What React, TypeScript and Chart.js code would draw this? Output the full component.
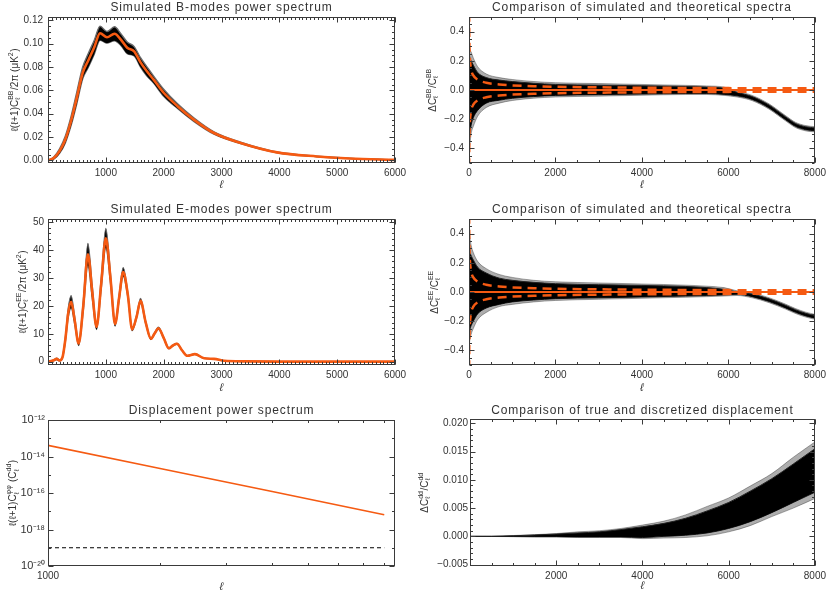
import React, { useEffect, useRef } from "react";
import { Chart, registerables } from "chart.js";
Chart.register(...registerables);

const FONT = "'Liberation Sans', Arial, sans-serif";
const TXT = "#333333";
const ORANGE = "#f55a12";
const SPIKE = "rgba(0,0,0,0.32)";

// ---------- Panel 1: B-modes power spectrum ----------
const bbEll = [2, 100, 200, 300, 400, 500, 600, 700, 800, 900, 1020, 1150, 1260, 1370, 1490, 1600, 1700, 1830, 2000, 2240, 2520, 2870, 3330, 3960, 4650, 5220, 6000];
const bbTheory = [0, 0.002, 0.008, 0.018, 0.034, 0.054, 0.075, 0.086, 0.097, 0.109, 0.1055, 0.1085, 0.1035, 0.0965, 0.0935, 0.084, 0.077, 0.069, 0.058, 0.0465, 0.035, 0.0235, 0.015, 0.0069, 0.0034, 0.0017, 0.0005];
const bbSimHigh = [0, 0.003, 0.010, 0.021, 0.038, 0.059, 0.080, 0.092, 0.103, 0.115, 0.1105, 0.1145, 0.1085, 0.1015, 0.0975, 0.088, 0.081, 0.072, 0.061, 0.0485, 0.0365, 0.0245, 0.0156, 0.0072, 0.0036, 0.0018, 0.0005];
const bbSimLow = [0, 0.001, 0.006, 0.015, 0.030, 0.049, 0.070, 0.080, 0.091, 0.103, 0.1005, 0.1025, 0.0985, 0.0915, 0.0895, 0.080, 0.073, 0.066, 0.055, 0.0445, 0.0335, 0.0225, 0.0144, 0.0066, 0.0032, 0.0016, 0.0005];
const specXTicks = [0, 1000, 2000, 3000, 4000, 5000, 6000];
const specXLabels = ["", "1000", "2000", "3000", "4000", "5000", "6000"];
const bbYTicks = [0, 0.02, 0.04, 0.06, 0.08, 0.1, 0.12];
const bbYLabels = ["0.00", "0.02", "0.04", "0.06", "0.08", "0.10", "0.12"];

// ---------- Panel 3: E-modes power spectrum ----------
const eeEll = [0, 100, 150, 200, 250, 300, 350, 400, 460, 530, 610, 690, 765, 840, 920, 1000, 1080, 1160, 1230, 1300, 1380, 1455, 1530, 1600, 1690, 1780, 1840, 1910, 2000, 2090, 2160, 2230, 2320, 2410, 2540, 2700, 2870, 3050, 3400, 4000, 6000];
const eeTheory = [0, 0.5, 1.0, 0.4, 1.5, 8, 17.5, 21.5, 15, 6.5, 20, 38.5, 25, 12.5, 28, 44.3, 30, 13.5, 23, 32.2, 24, 11.6, 16, 21.8, 14, 8.2, 10, 12, 8.5, 4.8, 5.8, 6.4, 4, 2.1, 2.7, 1.2, 1.0, 0.3, 0.1, 0.02, 0];
const eeSimHigh = [0, 0.7, 1.3, 0.6, 1.8, 9, 19.3, 23.7, 16.5, 7.3, 22, 42.5, 27.5, 13.5, 30.2, 47.8, 32, 14.3, 24.2, 33.8, 25, 12.1, 16.6, 22.7, 14.5, 8.5, 10.3, 12.4, 8.8, 5.0, 6.0, 6.6, 4.1, 2.2, 2.8, 1.25, 1.0, 0.3, 0.1, 0.02, 0];
const eeSimLow = [0, 0.3, 0.7, 0.2, 1.2, 7, 15.7, 19.3, 13.5, 5.7, 18, 34.5, 22.5, 11.5, 25.8, 40.8, 28, 12.7, 21.8, 30.6, 23, 11.1, 15.4, 20.9, 13.5, 7.9, 9.7, 11.6, 8.2, 4.6, 5.6, 6.2, 3.9, 2.0, 2.6, 1.15, 1.0, 0.3, 0.1, 0.02, 0];
const eeYTicks = [0, 10, 20, 30, 40, 50];
const eeYLabels = ["0", "10", "20", "30", "40", "50"];

// ---------- Panels 2 & 4: residuals ----------
const resEll = [2, 20, 50, 100, 200, 400, 700, 1000, 1500, 2000, 3000, 4000, 5000, 5500, 5900, 6200, 6550, 6940, 7320, 7550, 7790, 8000];
const bbResOuterHi = [0.32, 0.28, 0.26, 0.22, 0.16, 0.11, 0.085, 0.072, 0.058, 0.05, 0.044, 0.038, 0.032, 0.028, 0.02, -0.008, -0.037, -0.095, -0.175, -0.221, -0.244, -0.251];
const bbResOuterLo = [-0.45, -0.38, -0.30, -0.25, -0.18, -0.12, -0.09, -0.072, -0.056, -0.048, -0.042, -0.036, -0.031, -0.031, -0.037, -0.048, -0.073, -0.131, -0.211, -0.257, -0.28, -0.287];
const bbResCoreHi = [0.25, 0.22, 0.2, 0.17, 0.12, 0.085, 0.068, 0.058, 0.046, 0.038, 0.033, 0.029, 0.024, 0.02, 0.012, -0.016, -0.045, -0.103, -0.183, -0.229, -0.252, -0.259];
const bbResCoreLo = [-0.35, -0.3, -0.24, -0.19, -0.14, -0.09, -0.07, -0.057, -0.045, -0.037, -0.032, -0.028, -0.024, -0.024, -0.03, -0.04, -0.065, -0.123, -0.203, -0.249, -0.272, -0.279];
const eeResOuterHi = [0.46, 0.38, 0.32, 0.27, 0.21, 0.16, 0.12, 0.1, 0.08, 0.07, 0.062, 0.055, 0.047, 0.04, 0.03, 0.008, -0.006, -0.039, -0.083, -0.113, -0.138, -0.153];
const eeResOuterLo = [-0.38, -0.33, -0.29, -0.25, -0.19, -0.14, -0.1, -0.085, -0.068, -0.058, -0.05, -0.043, -0.036, -0.032, -0.028, -0.024, -0.04, -0.073, -0.117, -0.147, -0.172, -0.187];
const eeResCoreHi = [0.35, 0.28, 0.25, 0.22, 0.17, 0.13, 0.095, 0.08, 0.066, 0.057, 0.05, 0.045, 0.038, 0.03, 0.018, 0.0, -0.014, -0.047, -0.091, -0.121, -0.146, -0.161];
const eeResCoreLo = [-0.3, -0.26, -0.23, -0.2, -0.15, -0.11, -0.085, -0.068, -0.055, -0.046, -0.04, -0.034, -0.028, -0.024, -0.02, -0.016, -0.032, -0.065, -0.109, -0.139, -0.164, -0.179];
const cvEll = [2, 5, 10, 20, 50, 100, 200, 400, 700, 1000, 1500, 2000, 3000, 4000, 5000, 6000, 7000, 8000];
const cvAmp = [0.632, 0.426, 0.309, 0.221, 0.141, 0.0998, 0.0706, 0.05, 0.0378, 0.0316, 0.0258, 0.0224, 0.0183, 0.0158, 0.0141, 0.0129, 0.012, 0.0112];
const resXTicks = [0, 2000, 4000, 6000, 8000];
const resXLabels = ["0", "2000", "4000", "6000", "8000"];
const resYTicks = [-0.4, -0.2, 0, 0.2, 0.4];
const resYLabels = ["\u22120.4", "\u22120.2", "0.0", "0.2", "0.4"];

// ---------- Panel 5: displacement power spectrum ----------
const phiEll = [1000, 2000, 4000, 8000];
const phiTheory = [4.1e-14, 2.2e-15, 1.2e-16, 6.5e-18];
const phiNoiseEll = [1000, 8000];
const phiNoise = [1e-19, 1e-19];
const phiXTicks = [1000];
const phiXLabels = ["1000"];
const phiYTicks = [1e-20, 1e-18, 1e-16, 1e-14, 1e-12];
const phiYLabels = ["10\u207B\u00B2\u2070", "10\u207B\u00B9\u2078", "10\u207B\u00B9\u2076", "10\u207B\u00B9\u2074", "10\u207B\u00B9\u00B2"];

// ---------- Panel 6: displacement residual ----------
const ddEll = [0, 500, 1000, 1500, 2000, 2500, 3000, 3500, 4000, 4500, 5000, 5500, 6000, 6500, 7000, 7500, 8000];
const ddOuterHi = [0, 0.00002, 0.00015, 0.0003, 0.0005, 0.0008, 0.001, 0.0014, 0.002, 0.0027, 0.0038, 0.0053, 0.0068, 0.0089, 0.0111, 0.014, 0.0167];
const ddOuterLo = [0, -0.00002, -0.00005, -0.0001, -0.0001, -0.0002, -0.0002, -0.0002, -0.0004, -0.0003, -0.0002, 0.0001, 0.0008, 0.0019, 0.0035, 0.005, 0.0067];
const ddCoreHi = [0, 0.00001, 0.0001, 0.00025, 0.0004, 0.0006, 0.0008, 0.0012, 0.0017, 0.0023, 0.0032, 0.0045, 0.006, 0.008, 0.0102, 0.0128, 0.0155];
const ddCoreLo = [0, -0.00001, -0.00003, -0.00005, -0.00005, -0.0001, -0.0001, -0.0001, -0.0002, 0, 0.0002, 0.0006, 0.0014, 0.0026, 0.0042, 0.006, 0.0078];
const ddXLabels = ["", "2000", "4000", "6000", "8000"];
const ddYTicks = [-0.005, 0, 0.005, 0.01, 0.015, 0.02];
const ddYLabels = ["\u22120.005", "0.000", "0.005", "0.010", "0.015", "0.020"];

// ---------- helpers ----------
const pts = (xs: number[], ys: number[]) => xs.map((x, i) => ({ x, y: ys[i] }));
const seq = (a: number, b: number, step: number) => {
  const out: number[] = [];
  const n = Math.round((b - a) / step);
  for (let i = 0; i <= n; i++) out.push(a + i * step);
  return out;
};

type Seg = { t?: string; sub?: string; sup?: string };

function drawRich(ctx: CanvasRenderingContext2D, segs: Seg[], cx: number, cy: number, size: number) {
  ctx.save();
  ctx.translate(cx, cy);
  ctx.rotate(-Math.PI / 2);
  const nf = `${size}px ${FONT}`;
  const sf = `${Math.round(size * 0.72)}px ${FONT}`;
  const widths = segs.map((s) => {
    if (s.t !== undefined) {
      ctx.font = nf;
      return ctx.measureText(s.t).width;
    }
    ctx.font = sf;
    return Math.max(ctx.measureText(s.sub || "").width, ctx.measureText(s.sup || "").width) + 0.5;
  });
  const total = widths.reduce((a, b) => a + b, 0);
  let x = -total / 2;
  const base = size * 0.35;
  ctx.fillStyle = TXT;
  ctx.textAlign = "left";
  ctx.textBaseline = "alphabetic";
  segs.forEach((s, i) => {
    if (s.t !== undefined) {
      ctx.font = nf;
      ctx.fillText(s.t, x, base);
    } else {
      ctx.font = sf;
      if (s.sup) ctx.fillText(s.sup, x, base - size * 0.48);
      if (s.sub) ctx.fillText(s.sub, x, base + size * 0.28);
    }
    x += widths[i];
  });
  ctx.restore();
}

type Panel = {
  id: string;
  rect: [number, number, number, number];
  xType: string; xMin: number; xMax: number;
  yType: string; yMin: number; yMax: number;
  xTicks: number[]; xLabels: string[]; xMinor: number[];
  yTicks: number[]; yLabels: string[]; yMinor: number[];
  yPad: number; yTickSize?: number;
  title: string; titleY: number;
  yLabel: Seg[]; yLabelX: number;
  xLabelY: number;
  datasets: any[];
};

function decor(p: Panel) {
  return {
    id: "decor" + p.id,
    afterDraw(chart: any) {
      const ctx: CanvasRenderingContext2D = chart.ctx;
      const a = chart.chartArea;
      const xs = chart.scales.x;
      const ys = chart.scales.y;
      ctx.save();
      ctx.strokeStyle = "#3a3a3a";
      ctx.lineWidth = 1;
      const l = Math.round(a.left) + 0.5;
      const r = Math.round(a.right) - 0.5;
      const t = Math.round(a.top) + 0.5;
      const b = Math.round(a.bottom) - 0.5;
      ctx.strokeRect(l, t, r - l, b - t);
      ctx.beginPath();
      const xt = (vals: number[], len: number) =>
        vals.forEach((v) => {
          const px = Math.round(xs.getPixelForValue(v)) + 0.5;
          if (px < l - 1 || px > r + 1) return;
          ctx.moveTo(px, b); ctx.lineTo(px, b - len);
          ctx.moveTo(px, t); ctx.lineTo(px, t + len);
        });
      const yt = (vals: number[], len: number) =>
        vals.forEach((v) => {
          const py = Math.round(ys.getPixelForValue(v)) + 0.5;
          if (py < t - 1 || py > b + 1) return;
          ctx.moveTo(l, py); ctx.lineTo(l + len, py);
          ctx.moveTo(r, py); ctx.lineTo(r - len, py);
        });
      xt(p.xTicks, 5);
      xt(p.xMinor, 2.5);
      yt(p.yTicks, 5);
      yt(p.yMinor, 2.5);
      ctx.stroke();

      const cx = (a.left + a.right) / 2;
      ctx.fillStyle = TXT;
      ctx.font = `12px ${FONT}`;
      (ctx as any).letterSpacing = "0.9px";
      ctx.textAlign = "center";
      ctx.textBaseline = "middle";
      ctx.fillText(p.title, cx, p.titleY);
      (ctx as any).letterSpacing = "0px";
      ctx.font = `italic 11px ${FONT}`;
      ctx.fillText("\u2113", cx, p.xLabelY);
      drawRich(ctx, p.yLabel, p.yLabelX, (a.top + a.bottom) / 2, 10);
      ctx.restore();
    },
  };
}

function makeChart(canvas: HTMLCanvasElement, p: Panel) {
  const [L, T, R, B] = p.rect;
  const YW = 40;
  const XH = 24;
  const tickFont = { family: FONT, size: 10 };
  return new Chart(canvas, {
    type: "line",
    data: { datasets: p.datasets },
    options: {
      animation: false,
      responsive: false,
      events: [],
      layout: { padding: { left: L - YW, top: T, right: 830 - R, bottom: 594 - B - XH } },
      plugins: { legend: { display: false }, tooltip: { enabled: false } },
      elements: { point: { radius: 0 } },
      scales: {
        x: {
          type: p.xType as any,
          min: p.xMin,
          max: p.xMax,
          grid: { display: false, drawTicks: false },
          border: { display: false },
          ticks: {
            autoSkip: false,
            maxRotation: 0,
            padding: 4,
            color: TXT,
            font: tickFont,
            callback: (_v: any, i: number) => p.xLabels[i] ?? "",
          },
          afterBuildTicks: (s: any) => {
            s.ticks = p.xTicks.map((v) => ({ value: v }));
          },
          afterFit: (s: any) => {
            s.height = XH;
          },
        },
        y: {
          type: p.yType as any,
          min: p.yMin,
          max: p.yMax,
          grid: { display: false, drawTicks: false },
          border: { display: false },
          ticks: {
            autoSkip: false,
            padding: p.yPad,
            color: TXT,
            font: { family: FONT, size: p.yTickSize || 10 },
            callback: (_v: any, i: number) => p.yLabels[i] ?? "",
          },
          afterBuildTicks: (s: any) => {
            s.ticks = p.yTicks.map((v) => ({ value: v }));
          },
          afterFit: (s: any) => {
            s.width = YW;
          },
        },
      },
    } as any,
    plugins: [decor(p)],
  });
}

const line = (data: any[], color: string, width: number, extra: any = {}) => ({
  data,
  borderColor: color,
  borderWidth: width,
  pointRadius: 0,
  fill: false,
  cubicInterpolationMode: "monotone",
  ...extra,
});

function buildPanels(): Panel[] {
  const specMinor = seq(0, 6000, 1000 / 15);
  const resMinorX = seq(0, 8000, 500);
  const resMinorY = seq(-0.5, 0.5, 0.05);
  const cvHi = pts(cvEll, cvAmp);
  const cvLo = pts(cvEll, cvAmp.map((v) => -v));
  const dash = { borderDash: [9, 6], cubicInterpolationMode: "monotone" };
  const resDatasets = (oHi: number[], oLo: number[], cHi: number[], cLo: number[]) => [
    line([{ x: 0, y: 0 }, { x: 8000, y: 0 }], ORANGE, 2),
    line(cvHi, ORANGE, 2.5, dash),
    line(cvLo, ORANGE, 2.5, dash),
    line(pts(resEll, cHi), "#222", 1, { fill: "+1", backgroundColor: "#000" }),
    line(pts(resEll, cLo), "#222", 1),
    line(pts(resEll, oHi), SPIKE, 1, { fill: "+1", backgroundColor: SPIKE }),
    line(pts(resEll, oLo), SPIKE, 1),
  ];
  return [
    {
      id: "bb",
      rect: [48, 17, 395, 163],
      xType: "linear", xMin: 0, xMax: 6000,
      yType: "linear", yMin: -0.0022, yMax: 0.1229,
      xTicks: specXTicks, xLabels: specXLabels, xMinor: specMinor,
      yTicks: bbYTicks, yLabels: bbYLabels, yMinor: seq(0, 0.12, 0.005),
      yPad: 5,
      title: "Simulated B-modes power spectrum", titleY: 8,
      yLabel: [{ t: "\u2113(\u2113+1)C" }, { sub: "\u2113", sup: "BB" }, { t: "/2\u03C0 (\u03BCK" }, { sup: "2" }, { t: ")" }],
      yLabelX: 14,
      xLabelY: 185,
      datasets: [
        line(pts(bbEll, bbTheory), ORANGE, 2.6),
        line(pts(bbEll, bbSimHigh), "#6a6a6a", 1.4, { fill: "+1", backgroundColor: "#000" }),
        line(pts(bbEll, bbSimLow), "#6a6a6a", 1.4),
      ],
    },
    {
      id: "bbres",
      rect: [469, 17, 816, 163],
      xType: "linear", xMin: 0, xMax: 8000,
      yType: "linear", yMin: -0.5, yMax: 0.5,
      xTicks: resXTicks, xLabels: resXLabels, xMinor: resMinorX,
      yTicks: resYTicks, yLabels: resYLabels, yMinor: resMinorY,
      yPad: 5,
      title: "Comparison of simulated and theoretical spectra", titleY: 8,
      yLabel: [{ t: "\u0394C" }, { sub: "\u2113", sup: "BB" }, { t: "/C" }, { sub: "\u2113", sup: "BB" }],
      yLabelX: 432,
      xLabelY: 185,
      datasets: resDatasets(bbResOuterHi, bbResOuterLo, bbResCoreHi, bbResCoreLo),
    },
    {
      id: "ee",
      rect: [48, 219, 395, 365],
      xType: "linear", xMin: 0, xMax: 6000,
      yType: "linear", yMin: -1.2, yMax: 51.2,
      xTicks: specXTicks, xLabels: specXLabels, xMinor: specMinor,
      yTicks: eeYTicks, yLabels: eeYLabels, yMinor: seq(0, 50, 2),
      yPad: 4,
      title: "Simulated E-modes power spectrum", titleY: 210,
      yLabel: [{ t: "\u2113(\u2113+1)C" }, { sub: "\u2113", sup: "EE" }, { t: "/2\u03C0 (\u03BCK" }, { sup: "2" }, { t: ")" }],
      yLabelX: 22,
      xLabelY: 388,
      datasets: [
        line(pts(eeEll, eeTheory), ORANGE, 2.6),
        line(pts(eeEll, eeSimHigh), "#6a6a6a", 1.2, { fill: "+1", backgroundColor: "#000" }),
        line(pts(eeEll, eeSimLow), "#6a6a6a", 1.2),
      ],
    },
    {
      id: "eeres",
      rect: [469, 219, 816, 365],
      xType: "linear", xMin: 0, xMax: 8000,
      yType: "linear", yMin: -0.5, yMax: 0.5,
      xTicks: resXTicks, xLabels: resXLabels, xMinor: resMinorX,
      yTicks: resYTicks, yLabels: resYLabels, yMinor: resMinorY,
      yPad: 5,
      title: "Comparison of simulated and theoretical spectra", titleY: 210,
      yLabel: [{ t: "\u0394C" }, { sub: "\u2113", sup: "EE" }, { t: "/C" }, { sub: "\u2113", sup: "EE" }],
      yLabelX: 434,
      xLabelY: 388,
      datasets: resDatasets(eeResOuterHi, eeResOuterLo, eeResCoreHi, eeResCoreLo),
    },
    {
      id: "phi",
      rect: [48, 420, 395, 566],
      xType: "logarithmic", xMin: 1000, xMax: 8550,
      yType: "logarithmic", yMin: 1e-20, yMax: 1e-12,
      xTicks: phiXTicks, xLabels: phiXLabels, xMinor: [2000, 3000, 4000, 5000, 6000, 7000, 8000],
      yTicks: phiYTicks, yLabels: phiYLabels, yMinor: [1e-19, 1e-17, 1e-15, 1e-13],
      yPad: 3, yTickSize: 11,
      title: "Displacement power spectrum", titleY: 411,
      yLabel: [{ t: "\u2113(\u2113+1)C" }, { sub: "\u2113", sup: "\u03C6\u03C6" }, { t: " (C" }, { sub: "\u2113", sup: "dd" }, { t: ")" }],
      yLabelX: 12.5,
      xLabelY: 587,
      datasets: [
        line(pts(phiEll, phiTheory), ORANGE, 1.6, { cubicInterpolationMode: "default", tension: 0 }),
        line(pts(phiNoiseEll, phiNoise), "#000", 1.2, { borderDash: [4, 3], cubicInterpolationMode: "default", tension: 0 }),
      ],
    },
    {
      id: "dd",
      rect: [470, 419, 817, 566],
      xType: "linear", xMin: 0, xMax: 8000,
      yType: "linear", yMin: -0.00524, yMax: 0.02076,
      xTicks: resXTicks, xLabels: ddXLabels, xMinor: resMinorX,
      yTicks: ddYTicks, yLabels: ddYLabels, yMinor: seq(-0.005, 0.02, 0.001),
      yPad: 2,
      title: "Comparison of true and discretized displacement", titleY: 411,
      yLabel: [{ t: "\u0394C" }, { sub: "\u2113", sup: "dd" }, { t: "/C" }, { sub: "\u2113", sup: "dd" }],
      yLabelX: 424,
      xLabelY: 586,
      datasets: [
        line(pts(ddEll, ddCoreHi), "#222", 1, { fill: "+1", backgroundColor: "#000" }),
        line(pts(ddEll, ddCoreLo), "#222", 1),
        line(pts(ddEll, ddOuterHi), SPIKE, 1, { fill: "+1", backgroundColor: SPIKE }),
        line(pts(ddEll, ddOuterLo), SPIKE, 1),
      ],
    },
  ];
}

export default function App() {
  const refs = useRef<(HTMLCanvasElement | null)[]>([]);
  useEffect(() => {
    const panels = buildPanels();
    const charts = panels.map((p, i) => makeChart(refs.current[i] as HTMLCanvasElement, p));
    return () => charts.forEach((c) => c.destroy());
  }, []);
  return (
    <div style={{ position: "absolute", left: 0, top: 0, width: 830, height: 594, background: "#fff", overflow: "hidden" }}>
      {[0, 1, 2, 3, 4, 5].map((i) => (
        <canvas
          key={i}
          ref={(el) => {
            refs.current[i] = el;
          }}
          width={830}
          height={594}
          style={{ position: "absolute", left: 0, top: 0, width: 830, height: 594 }}
        />
      ))}
    </div>
  );
}
